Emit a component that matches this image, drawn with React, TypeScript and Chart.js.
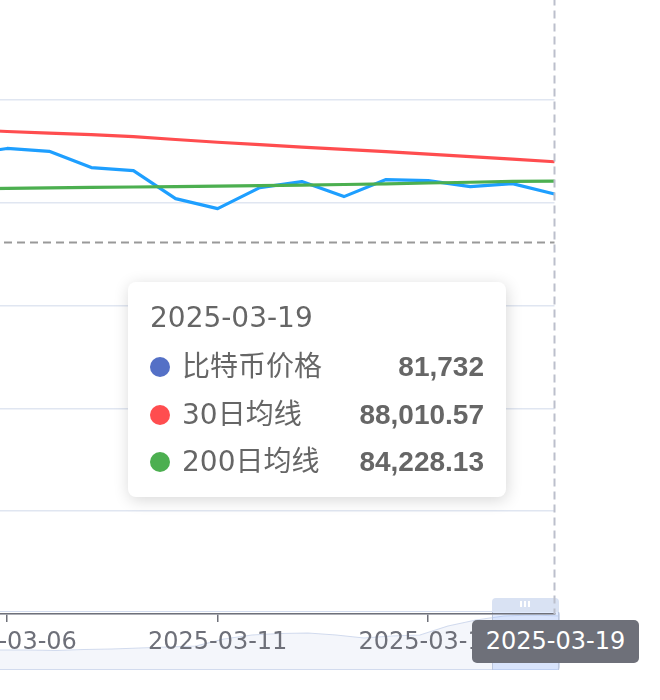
import React, { useEffect, useRef } from 'react';
import { Chart, registerables } from 'chart.js';

Chart.register(...registerables);

// ---------- data ----------
const categories = [
  '2025-03-05', '2025-03-06', '2025-03-07', '2025-03-08', '2025-03-09',
  '2025-03-10', '2025-03-11', '2025-03-12', '2025-03-13', '2025-03-14',
  '2025-03-15', '2025-03-16', '2025-03-17', '2025-03-18', '2025-03-19',
];
const btcPrice = [
  89400, 90600, 90050, 86880, 86300, 80840, 78890, 82980, 84150, 81230,
  84540, 84350, 83180, 83760, 81732,
];
const ma30 = [
  94290, 93900, 93600, 93310, 92920, 92340, 91810, 91360, 90880, 90430,
  90000, 89510, 89020, 88540, 88010.57,
];
const ma200 = [
  82730, 82830, 82920, 83020, 83100, 83180, 83270, 83350, 83450, 83590,
  83720, 83880, 84030, 84190, 84228.13,
];
const seriesNames = ['比特币价格', '30日均线', '200日均线'];
const shownTickLabels = ['2025-03-06', '2025-03-11', '2025-03-16'];
const yMin = 0;
const yMax = 120000;
const yStep = 20000;
const cursorValue = 72300; // horizontal axis-pointer position
const activeIndex = 14; // hovered category
// data-zoom slider shadow (relative heights)
const shadowValues = [
  20, 20, 19.5, 20.5, 21, 22, 23, 24, 31, 35, 36.5, 37, 35, 32, 34, 35, 44, 50, 54, 55, 54,
];

// ---------- styles ----------
const lineColors = ['#1e9fff', '#ff4d4f', '#4caf50'];
const dotColors = ['#5470c6', '#ff4d4f', '#4caf50'];
const DATE_FONT = '"DejaVu Sans", "Noto Sans CJK SC", sans-serif';
const VALUE_FONT = '"Liberation Sans", "Noto Sans", sans-serif';

const fmt = new Intl.NumberFormat('en-US', { maximumFractionDigits: 2 });

export default function App() {
  const mainRef = useRef<HTMLCanvasElement>(null);
  const shadowRef = useRef<HTMLCanvasElement>(null);

  useEffect(() => {
    document.body.style.overflow = 'hidden';
    const crosshair = {
      id: 'crosshair',
      afterDatasetsDraw(chart: any) {
        const { ctx, chartArea, scales } = chart;
        const x = scales.x.getPixelForValue(activeIndex);
        const y = scales.y.getPixelForValue(cursorValue);
        ctx.save();
        ctx.lineWidth = 2;
        ctx.setLineDash([8, 5]);
        ctx.strokeStyle = '#999999';
        ctx.beginPath();
        ctx.moveTo(chartArea.left, y);
        ctx.lineTo(chartArea.right, y);
        ctx.stroke();
        ctx.strokeStyle = '#bcbfcc';
        ctx.beginPath();
        ctx.moveTo(x, chartArea.top);
        ctx.lineTo(x, chartArea.bottom);
        ctx.stroke();
        ctx.restore();
      },
    };

    const series = [btcPrice, ma30, ma200];
    const main = new Chart(mainRef.current as HTMLCanvasElement, {
      type: 'line',
      data: {
        labels: categories,
        datasets: series.map((d, i) => ({
          label: seriesNames[i],
          data: d,
          borderColor: lineColors[i],
          backgroundColor: lineColors[i],
          borderWidth: 3.2,
          pointRadius: 0,
          tension: 0,
          borderJoinStyle: 'round' as const,
          order: 3 - i,
        })),
      },
      options: {
        animation: false,
        responsive: false,
        events: [],
        layout: { padding: { left: 10, right: 105.5, top: 17.4, bottom: 0 } },
        plugins: { legend: { display: false }, tooltip: { enabled: false } },
        scales: {
          x: {
            type: 'category',
            offset: false,
            grid: {
              display: true,
              drawOnChartArea: false,
              drawTicks: true,
              tickLength: 8,
              color: '#6e7079',
              lineWidth: 1.5,
            },
            border: { display: true, color: '#6e7079', width: 1.5 },
            ticks: {
              autoSkip: false,
              maxRotation: 0,
              padding: 6,
              color: '#6e7079',
              font: { family: DATE_FONT, size: 24 },
              callback: (_v: any, i: number) =>
                shownTickLabels.includes(categories[i]) ? categories[i] : null,
            },
            afterFit: (s: any) => {
              s.height = 86;
              s.paddingLeft = 0;
              s.paddingRight = 0;
            },
          },
          y: {
            min: yMin,
            max: yMax,
            ticks: { display: false, stepSize: yStep },
            border: { display: false },
            grid: { color: '#e0e6f1', lineWidth: 1.5, drawTicks: false },
            afterFit: (s: any) => {
              s.width = 0;
              s.paddingTop = 0;
              s.paddingBottom = 0;
            },
          },
        },
      },
      plugins: [crosshair],
    });

    const shadow = new Chart(shadowRef.current as HTMLCanvasElement, {
      type: 'line',
      data: {
        labels: shadowValues.map((_, i) => String(i)),
        datasets: [
          {
            data: shadowValues,
            borderColor: '#d2dbee',
            borderWidth: 1.2,
            fill: 'origin',
            backgroundColor: 'rgba(210,219,238,0.25)',
            pointRadius: 0,
            tension: 0,
          },
        ],
      },
      options: {
        animation: false,
        responsive: false,
        events: [],
        layout: { padding: 0 },
        plugins: { legend: { display: false }, tooltip: { enabled: false } },
        scales: {
          x: { display: false, offset: false },
          y: { display: false, min: 0, max: 58 },
        },
      },
    });

    return () => {
      main.destroy();
      shadow.destroy();
    };
  }, []);

  const rowCenters = [85, 132.5, 180];
  const values = [btcPrice[activeIndex], ma30[activeIndex], ma200[activeIndex]];

  return (
    <div style={{ position: 'absolute', left: 0, top: 0, width: 660, height: 700, overflow: 'hidden', background: '#fff' }}>
      {/* data zoom frame */}
      <div
        style={{
          position: 'absolute', left: -10, top: 611, width: 570, height: 59,
          border: '1.5px solid #d2dbee', boxSizing: 'border-box', borderRadius: 3,
        }}
      />
      <canvas ref={shadowRef} width={560} height={58} style={{ position: 'absolute', left: 0, top: 612 }} />
      {/* selected window */}
      <div
        style={{
          position: 'absolute', left: 492, top: 612, width: 67, height: 58,
          background: 'rgba(135,175,255,0.25)', boxSizing: 'border-box',
          borderLeft: '1.5px solid #bcc7de', borderRight: '1.5px solid #bcc7de',
        }}
      />
      <div
        style={{
          position: 'absolute', left: 492, top: 598, width: 67, height: 14,
          background: '#d9e2f3', borderRadius: '4px 4px 0 0',
        }}
      >
        {[0, 1, 2].map((k) => (
          <div key={k} style={{ position: 'absolute', left: 28 + k * 4, top: 3, width: 2, height: 6, background: '#fff' }} />
        ))}
      </div>
      {/* main chart */}
      <canvas ref={mainRef} width={705} height={720} style={{ position: 'absolute', left: -45, top: -20 }} />
      {/* axis pointer label */}
      <div
        style={{
          position: 'absolute', left: 472, top: 620, width: 167, height: 43,
          background: '#6e7079', borderRadius: 5, color: '#fff', textAlign: 'center',
          font: `24px ${DATE_FONT}`, lineHeight: '43px',
        }}
      >
        {categories[activeIndex]}
      </div>
      {/* tooltip */}
      <div
        style={{
          position: 'absolute', left: 128, top: 282, width: 378, height: 215,
          background: '#fff', borderRadius: 8, boxShadow: '1px 3px 16px rgba(0,0,0,0.16)', color: '#666',
        }}
      >
        <div style={{ position: 'absolute', left: 22, top: 18, font: `28px ${DATE_FONT}`, lineHeight: '36px', whiteSpace: 'nowrap' }}>
          {categories[activeIndex]}
        </div>
        {rowCenters.map((c, i) => (
          <React.Fragment key={i}>
            <div style={{ position: 'absolute', left: 22, top: c - 10, width: 20, height: 20, borderRadius: 10, background: dotColors[i] }} />
            <div style={{ position: 'absolute', left: 54, top: c - 18, font: `28px ${DATE_FONT}`, lineHeight: '36px', whiteSpace: 'nowrap' }}>
              {seriesNames[i]}
            </div>
            <div style={{ position: 'absolute', right: 22, top: c - 18, font: `bold 28px ${VALUE_FONT}`, lineHeight: '36px', whiteSpace: 'nowrap' }}>
              {fmt.format(values[i])}
            </div>
          </React.Fragment>
        ))}
      </div>
    </div>
  );
}
